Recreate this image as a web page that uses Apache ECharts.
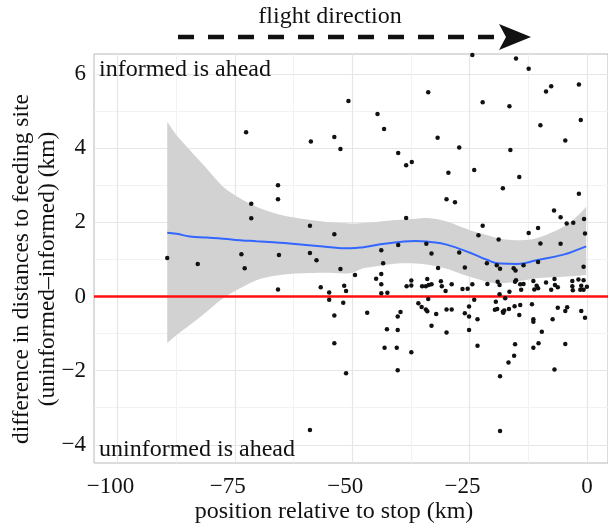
<!DOCTYPE html>
<html><head><meta charset="utf-8">
<script src="https://cdn.jsdelivr.net/npm/echarts@6/dist/echarts.min.js"></script>
<style>html,body{margin:0;padding:0;background:#fff}#c{width:608px;height:526px}</style>
</head><body><div id="c"></div>
<script>
const xMajorTicks = [-100, -75, -50, -25, 0];
const xMinorTicks = [-87.5, -62.5, -37.5, -12.5];
const yMajorTicks = [-4, -2, 0, 2, 4, 6];
const yMinorTicks = [-3, -1, 1, 3, 5];

const pointX = [-72.6,-58.8,-53.8,-52.5,-50.8,-65.8,-65.8,-71.5,-71.5,-59.0,-53.8,-89.4,-82.9,-73.6,-65.6,-59.0,-57.6,-72.9,-52.5,-65.8,-56.7,-54.9,-54.9,-51.7,-51.3,-51.9,-53.8,-53.8,-51.3,-59.0,
-24.4,-15.1,-12.4,-33.8,-44.6,-43.2,-31.8,-27.2,-40.2,-38.5,-37.3,-29.5,-29.9,-28.1,-24.0,-22.2,-16.5,-16.3,-17.9,-14.4,-8.7,-7.6,-1.7,-1.3,-9.9,-4.6,-1.7,-7.0,-5.6,-4.3,-2.9,-0.6,-0.4,-38.5,-22.2,-23.1,-18.8,-12.4,-10.4,-9.9,-5.6,-43.8,-40.2,-34.2,-33.1,-27.2,-43.4,-31.7,-26.0,-21.3,-19.2,-18.5,-15.6,-13.5,-10.4,-0.7,-15.2,
-49.4,-44.9,-43.8,-43.8,-43.8,-42.5,-46.8,-38.4,-37.4,-37.4,-35.1,-34.3,-34.0,-33.7,-33.1,-31.1,-30.9,-30.1,-28.8,-26.5,-25.4,-33.8,-35.9,-35.2,-34.3,-34.0,-32.1,-29.9,-28.8,-39.7,-40.3,-33.1,-42.6,-40.3,-29.9,-43.1,-40.5,-37.4,-40.3,-26.0,-25.1,-25.1,-24.0,-23.3,-25.1,-23.3,
-24.4,-21.2,-19.0,-18.6,-16.5,-15.3,-15.1,-14.2,-13.5,-14.0,-11.4,-11.2,-10.7,-10.4,-8.7,-7.6,-6.9,-6.8,-6.2,-3.1,-3.1,-3.0,-1.8,-1.2,-1.4,-0.7,0.0,-0.7,-19.4,-18.6,-17.4,-19.6,-19.1,-17.9,-17.6,-17.8,-16.6,-15.4,-14.2,-14.4,-11.7,-11.4,-11.4,-9.6,-6.2,-4.6,-4.2,-7.3,-1.2,-0.4,-15.3,-15.5,-16.7,-10.3,-11.4,-4.6,-6.9,-18.5,-18.5];
const pointY = [4.43,4.18,4.30,3.98,5.27,3.00,2.62,2.50,2.11,1.91,1.68,1.04,0.88,1.14,1.12,1.17,0.98,0.76,0.74,0.19,0.25,0.11,-0.09,0.29,0.15,-0.17,-0.51,-1.26,-2.07,-3.60,
6.51,6.42,6.14,5.51,4.92,4.52,4.28,4.02,3.87,3.54,3.63,3.34,2.62,2.54,3.41,5.24,5.13,3.95,2.92,3.22,5.53,5.67,5.72,4.76,4.62,4.21,2.77,2.32,2.14,1.97,1.99,2.09,1.70,2.12,1.91,1.65,1.54,1.71,1.85,1.43,1.42,1.25,1.39,1.42,1.16,1.19,0.90,0.77,0.78,0.90,0.84,0.75,0.76,0.84,0.93,0.80,0.70,
0.58,0.48,0.61,0.33,0.09,0.10,-0.44,0.28,0.30,0.43,0.28,0.28,0.47,0.31,0.33,0.41,0.28,0.15,0.33,0.20,0.21,-0.07,-0.18,-0.28,-0.35,-0.40,-0.47,-0.35,-0.35,-0.42,-0.54,-0.79,-0.88,-0.90,-0.97,-1.38,-1.38,-1.50,-1.99,-0.45,-0.27,-0.54,-0.09,-0.61,-0.90,-1.33,
0.33,0.34,0.40,0.31,0.13,0.40,0.44,0.33,0.34,0.18,0.42,0.19,0.29,0.22,0.38,0.18,0.47,0.31,0.25,0.42,0.28,0.17,0.46,0.29,0.18,0.44,0.26,0.18,-0.14,0.06,-0.05,-0.36,-0.34,-0.41,-0.38,-0.44,-0.34,-0.26,-0.23,-0.50,-0.21,-0.61,-0.68,-0.95,-0.30,-0.39,-0.29,-0.61,-0.39,-0.57,-1.29,-1.60,-1.78,-1.26,-1.38,-1.28,-1.97,-2.15,-3.63];

const fitX      = [-89.4,-87.4,-84.6,-81.0,-77.5,-73.9,-70.4,-66.8,-63.3,-56.2,-50.5,-47.6,-44.0,-40.5,-36.5,-33.4,-29.9,-24.9,-21.3,-18.5,-14.9,-10.7,-5.0,-1.8,-0.15];
const fitY      = [1.72,1.69,1.62,1.59,1.56,1.52,1.49,1.46,1.43,1.35,1.30,1.33,1.41,1.46,1.50,1.47,1.40,1.18,0.99,0.89,0.88,0.98,1.13,1.27,1.35];
const bandUpper = [4.71,4.35,3.95,3.45,2.96,2.65,2.42,2.26,2.15,2.02,1.97,1.98,2.02,2.06,2.10,2.11,2.02,1.79,1.66,1.56,1.52,1.57,1.88,2.20,2.42];
const bandLower = [-1.26,-1.04,-0.77,-0.41,-0.05,0.22,0.44,0.55,0.61,0.64,0.63,0.76,0.83,0.89,0.89,0.85,0.75,0.53,0.40,0.36,0.40,0.49,0.53,0.56,0.58];
const refLineValue = 0;

const titleText = 'flight direction';
const xTitle = 'position relative to stop (km)';
const yTitle = 'difference in distances to feeding site\n(uninformed\u2013informed) (km)';
const topNote = 'informed is ahead';
const bottomNote = 'uninformed is ahead';

const SERIF = '"Liberation Serif", "DejaVu Serif", serif';
const fmt = v => String(v).replace('-', '\u2212');

const chart = echarts.init(document.getElementById('c'));
const points = pointX.map((x, i) => [x, pointY[i]]);
const fitData = fitX.map((x, i) => [x, fitY[i]]);

// Catmull-Rom smoothing of pixel points into SVG path commands
function smoothPath(pts, startCmd) {
  let d = startCmd + pts[0][0] + ' ' + pts[0][1];
  for (let i = 0; i < pts.length - 1; i++) {
    const p0 = pts[Math.max(0, i - 1)], p1 = pts[i], p2 = pts[i + 1], p3 = pts[Math.min(pts.length - 1, i + 2)];
    const c1x = p1[0] + (p2[0] - p0[0]) / 6, c1y = p1[1] + (p2[1] - p0[1]) / 6;
    const c2x = p2[0] - (p3[0] - p1[0]) / 6, c2y = p2[1] - (p3[1] - p1[1]) / 6;
    d += ' C' + c1x + ' ' + c1y + ' ' + c2x + ' ' + c2y + ' ' + p2[0] + ' ' + p2[1];
  }
  return d;
}

chart.setOption({
  animation: false,
  backgroundColor: '#fff',
  grid: { left: 94, right: 0, top: 54, bottom: 63, show: true, borderColor: '#b8b8b8', borderWidth: 1, backgroundColor: 'transparent' },
  xAxis: [
    { type: 'value', min: -105, max: 4.5,
      axisLine: { show: false }, axisTick: { show: false, customValues: xMajorTicks },
      axisLabel: { customValues: xMajorTicks,
        formatter: v => v < 0 ? fmt(v) + '{p|}' : fmt(v),
        rich: { p: { width: 14 } },
        fontFamily: SERIF, fontSize: 23, color: '#111', margin: 12 },
      splitLine: { show: true, lineStyle: { color: '#e6e6e6', width: 1.2 } } },
    { type: 'value', min: -105, max: 4.5, position: 'bottom',
      axisLine: { show: false }, axisTick: { show: false, customValues: xMinorTicks },
      axisLabel: { show: false, customValues: xMinorTicks },
      splitLine: { show: true, lineStyle: { color: '#f2f2f2', width: 1 } } }
  ],
  yAxis: [
    { type: 'value', min: -4.49, max: 6.54,
      axisLine: { show: false }, axisTick: { show: false, customValues: yMajorTicks },
      axisLabel: { customValues: yMajorTicks, formatter: fmt, fontFamily: SERIF, fontSize: 23, color: '#111', margin: 8 },
      splitLine: { show: true, lineStyle: { color: '#e6e6e6', width: 1.2 } } },
    { type: 'value', min: -4.49, max: 6.54, position: 'left',
      axisLine: { show: false }, axisTick: { show: false, customValues: yMinorTicks },
      axisLabel: { show: false, customValues: yMinorTicks },
      splitLine: { show: true, lineStyle: { color: '#f2f2f2', width: 1 } } }
  ],
  series: [
    { type: 'custom', xAxisIndex: 0, yAxisIndex: 0, silent: true, z: 1,
      data: [[fitX[0], bandLower[0]]],
      renderItem: function (params, api) {
        const up = fitX.map((x, i) => api.coord([x, bandUpper[i]]));
        const lo = fitX.map((x, i) => api.coord([x, bandLower[i]])).reverse();
        const d = smoothPath(up, 'M') + ' ' + smoothPath(lo, 'L').slice(0) + ' Z';
        return { type: 'path', shape: { pathData: d }, style: { fill: '#d2d2d2', stroke: null } };
      } },
    { type: 'line', xAxisIndex: 0, yAxisIndex: 0, data: fitData, smooth: true, showSymbol: false, silent: true, z: 3,
      lineStyle: { color: '#3366ff', width: 2 } },
    { type: 'scatter', xAxisIndex: 0, yAxisIndex: 0, data: points, symbolSize: 4.5, silent: true, z: 4,
      itemStyle: { color: '#111', opacity: 1 },
      markLine: { silent: true, symbol: 'none', label: { show: false }, z: 2,
        lineStyle: { color: '#ff1010', width: 2.5, type: 'solid' },
        data: [{ yAxis: refLineValue }] } }
  ],
  graphic: [
    { type: 'text', x: 330, y: 17, style: { text: titleText, font: '24px ' + SERIF, fill: '#111', textAlign: 'center', textVerticalAlign: 'middle' } },
    { type: 'line', shape: { x1: 178, y1: 37, x2: 500, y2: 37 }, style: { stroke: '#111', lineWidth: 4.5, lineDash: [16, 14] } },
    { type: 'polygon', shape: { points: [[531, 37], [499, 24], [506, 37], [499, 50]] }, style: { fill: '#111' } },
    { type: 'text', x: 99, y: 70, style: { text: topNote, font: '24px ' + SERIF, fill: '#111', textAlign: 'left', textVerticalAlign: 'middle' }, z: 10 },
    { type: 'text', x: 99, y: 450, style: { text: bottomNote, font: '24px ' + SERIF, fill: '#111', textAlign: 'left', textVerticalAlign: 'middle' }, z: 10 },
    { type: 'text', x: 334, y: 512, style: { text: xTitle, font: '24px ' + SERIF, fill: '#111', textAlign: 'center', textVerticalAlign: 'middle' } },
    { type: 'text', x: 35, y: 269, rotation: Math.PI / 2, style: { text: yTitle, font: '23.5px ' + SERIF, fill: '#111', textAlign: 'center', textVerticalAlign: 'middle', lineHeight: 26 } }
  ]
});
</script></body></html>
